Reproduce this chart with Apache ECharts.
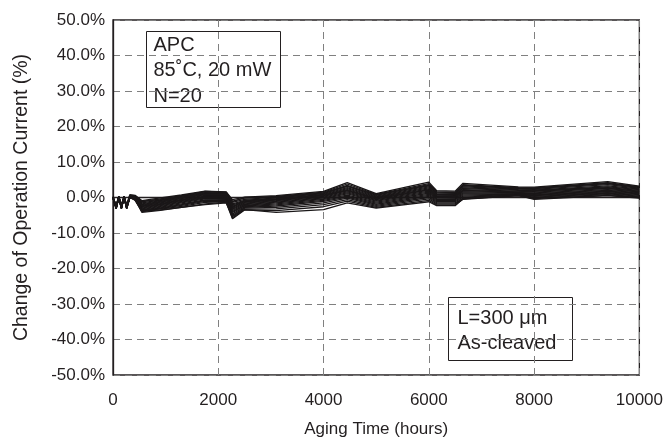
<!DOCTYPE html>
<html>
<head>
<meta charset="utf-8">
<script src="https://cdn.jsdelivr.net/npm/echarts@6/dist/echarts.min.js"></script>
<style>
html,body{margin:0;padding:0;background:#fff;}
#chart{width:666px;height:443px;}
</style>
</head>
<body>
<div id="chart"></div>
<script>
// Aging time (hours)
const hours = [0, 60, 110, 160, 210, 260, 320, 420, 550, 900, 1300, 1750, 2150, 2270, 2500, 3100, 4000, 4450, 5000, 6000, 6150, 6500, 6650, 7700, 8000, 9400, 10000];

// Change of operation current (%) for 20 devices
const dev01 = [0, -2.2, 0.4, -2.0, 0.4, -2.1, 0.8, 0.6, -0.9, -0.1, 0.7, 1.8, 1.6, -0.6, 0.1, 0.5, 1.7, 4.2, 1.1, 4.3, 1.9, 1.8, 4.0, 3.0, 2.9, 4.5, 3.2];
const dev02 = [0.2, -2.4, 0.3, -2.3, 0.3, -2.2, 0.6, 0.5, -1.2, -0.4, 0.5, 1.6, 1.4, -1.0, -0.2, 0.3, 1.5, 3.8, 0.9, 3.9, 1.6, 1.5, 3.6, 2.8, 2.7, 4.2, 3.0];
const dev03 = [0, -2.6, 0.2, -2.5, 0.2, -2.4, 0.5, 0.3, -1.5, -0.7, 0.3, 1.4, 1.2, -1.4, -0.5, 0.1, 1.3, 3.4, 0.6, 3.6, 1.3, 1.2, 3.3, 2.6, 2.5, 3.9, 2.8];
const dev04 = [-0.1, -2.8, 0.1, -2.6, 0.1, -2.7, 0.4, 0.2, -1.8, -0.9, 0.1, 1.2, 1.1, -1.8, -0.8, -0.1, 1.1, 3.1, 0.4, 3.3, 1.1, 1.0, 3.0, 2.4, 2.3, 3.6, 2.6];
const dev05 = [0.1, -2.9, 0.2, -2.8, 0.0, -2.8, 0.3, 0.1, -2.0, -1.1, -0.1, 1.0, 0.9, -2.1, -1.0, -0.3, 0.9, 2.8, 0.2, 3.0, 0.9, 0.8, 2.7, 2.2, 2.1, 3.3, 2.4];
const dev06 = [0, -3.0, 0.0, -2.9, 0.1, -2.9, 0.2, 0.0, -2.2, -1.3, -0.3, 0.8, 0.7, -2.4, -1.2, -0.5, 0.7, 2.5, 0.0, 2.7, 0.7, 0.6, 2.5, 2.0, 1.9, 3.0, 2.2];
const dev07 = [-0.2, -3.1, 0.1, -3.0, 0.0, -3.0, 0.2, -0.1, -2.4, -1.5, -0.5, 0.6, 0.5, -2.7, -1.4, -0.7, 0.5, 2.2, -0.2, 2.4, 0.5, 0.4, 2.2, 1.8, 1.7, 2.8, 2.0];
const dev08 = [0.1, -3.2, -0.1, -3.1, -0.1, -3.1, 0.1, -0.2, -2.6, -1.7, -0.7, 0.4, 0.3, -3.0, -1.6, -0.9, 0.3, 1.9, -0.4, 2.1, 0.3, 0.2, 1.9, 1.6, 1.5, 2.5, 1.8];
const dev09 = [0, -2.7, 0.0, -2.8, 0.2, -2.6, 0.0, -0.3, -2.8, -1.9, -0.9, 0.2, 0.1, -3.3, -1.8, -1.1, 0.1, 1.6, -0.6, 1.8, 0.1, 0.0, 1.6, 1.4, 1.3, 2.2, 1.6];
const dev10 = [-0.1, -2.5, 0.1, -2.7, -0.1, -2.5, 0.1, -0.4, -3.0, -2.1, -1.1, 0.0, -0.1, -3.6, -2.0, -1.3, -0.1, 1.3, -0.8, 1.5, -0.1, -0.2, 1.3, 1.2, 1.1, 2.0, 1.4];
const dev11 = [0.2, -2.9, 0.3, -2.9, 0.3, -2.9, 0.3, -0.5, -3.2, -2.3, -1.3, -0.2, -0.3, -3.9, -2.2, -1.5, -0.3, 1.0, -1.0, 1.2, -0.3, -0.4, 1.0, 1.0, 0.9, 1.8, 1.2];
const dev12 = [0, -3.0, 0.0, -3.0, 0.0, -3.1, 0.0, -0.5, -3.4, -2.5, -1.5, -0.4, -0.5, -4.2, -2.4, -1.8, -0.5, 0.7, -1.3, 0.9, -0.6, -0.6, 0.7, 0.9, 0.7, 1.6, 1.0];
const dev13 = [-0.1, -3.1, -0.1, -3.2, 0.1, -3.2, -0.1, -0.6, -3.6, -2.7, -1.8, -0.7, -0.7, -4.6, -2.6, -2.1, -0.8, 0.4, -1.6, 0.6, -0.9, -0.9, 0.4, 0.8, 0.5, 1.4, 0.8];
const dev14 = [0.1, -3.2, 0.2, -3.1, 0.2, -3.0, 0.1, -0.7, -3.8, -2.9, -2.0, -0.9, -0.8, -5.0, -2.8, -2.4, -1.1, 0.1, -1.9, 0.3, -1.2, -1.2, 0.1, 0.7, 0.3, 1.2, 0.6];
const dev15 = [0, -2.8, 0.1, -2.6, 0.0, -2.7, 0.2, -0.8, -4.0, -3.1, -2.2, -1.1, -1.0, -5.4, -3.0, -2.8, -1.5, -0.2, -2.2, 0.0, -1.5, -1.5, -0.2, 0.6, 0.1, 1.0, 0.4];
const dev16 = [-0.2, -2.6, 0.0, -2.5, 0.1, -2.6, 0.0, -0.3, -3.5, -3.3, -2.5, -1.4, -1.2, -5.8, -3.3, -3.2, -2.0, -0.6, -2.5, -0.4, -1.8, -1.8, -0.4, 0.5, -0.1, 0.8, 0.2];
const dev17 = [0.1, -3.0, 0.2, -3.0, 0.2, -2.8, 0.3, -0.2, -3.9, -3.5, -2.8, -1.8, -1.4, -6.0, -3.5, -3.7, -2.6, -1.0, -2.8, -0.8, -2.1, -2.1, -0.5, 0.5, -0.3, 0.6, 0.0];
const dev18 = [0, -3.1, 0.1, -3.0, 0.0, -3.0, 0.1, -0.4, -4.2, -3.6, -2.8, -2.0, -1.5, -5.2, -3.4, -4.2, -3.4, -1.5, -3.0, -1.2, -2.3, -2.3, -0.3, 0.6, -0.5, 0.5, -0.2];
const dev19 = [0.2, -2.4, 0.4, -2.2, 0.3, -2.3, 0.5, 0.4, -1.0, -0.6, 0.4, 1.7, 1.5, -1.2, 0.0, 0.2, 1.2, 3.2, 0.8, 3.4, 1.5, 1.4, 3.4, 2.7, 2.6, 4.0, 2.9];
const dev20 = [-0.1, -2.7, 0.0, -2.7, 0.0, -2.7, 0.2, 0.0, -2.3, -1.2, 0.0, 0.9, 0.8, -2.6, -0.9, -0.4, 0.6, 2.0, -0.3, 2.2, 0.4, 0.3, 2.0, 1.5, 2.0, 2.6, 1.7];

const devices = [dev01, dev02, dev03, dev04, dev05, dev06, dev07, dev08, dev09, dev10,
                 dev11, dev12, dev13, dev14, dev15, dev16, dev17, dev18, dev19, dev20];

// Axis ticks
const xTicks = [0, 2000, 4000, 6000, 8000, 10000];
const yTicks = [-50, -40, -30, -20, -10, 0, 10, 20, 30, 40, 50];

// Annotation texts
const box1Lines = ['APC', '85˚C, 20 mW', 'N=20'];
const box2Lines = ['L=300 μm', 'As-cleaved'];

const ink = '#231f20';
const font = 'Liberation Sans, Arial, Helvetica, sans-serif';

const chart = echarts.init(document.getElementById('chart'), null, {renderer: 'canvas'});

const series = devices.map((vals, i) => ({
  name: 'Device ' + (i + 1),
  type: 'line',
  data: hours.map((h, k) => [h, vals[k]]),
  symbol: 'none',
  lineStyle: {color: '#1a1718', width: 1.3},
  animation: false,
  z: 3
}));

chart.setOption({
  animation: false,
  backgroundColor: '#fff',
  grid: {left: 113, right: 25, top: 20, bottom: 66, show: true, borderColor: ink, borderWidth: 1.3, backgroundColor: 'transparent'},
  xAxis: {
    type: 'value',
    min: xTicks[0], max: xTicks[xTicks.length - 1], interval: 2000,
    name: 'Aging Time (hours)', nameLocation: 'middle', nameGap: 46,
    nameTextStyle: {fontFamily: font, fontSize: 17, color: ink},
    axisLine: {show: true, lineStyle: {color: ink, width: 1.3}},
    axisTick: {show: false},
    axisLabel: {fontFamily: font, fontSize: 17, color: ink, margin: 17, formatter: v => String(v)},
    splitLine: {show: true, lineStyle: {color: '#808080', type: [7, 5], width: 1}}
  },
  yAxis: {
    type: 'value',
    min: yTicks[0], max: yTicks[yTicks.length - 1], interval: 10,
    name: 'Change of Operation Current (%)', nameLocation: 'middle', nameGap: 81,
    nameTextStyle: {fontFamily: font, fontSize: 19.5, color: ink},
    axisLine: {show: true, lineStyle: {color: ink, width: 1.3}},
    axisTick: {show: false},
    axisLabel: {fontFamily: font, fontSize: 17, color: ink, margin: 8,
      formatter: v => v.toFixed(1) + '%'},
    splitLine: {show: true, lineStyle: {color: '#808080', type: [7, 5], width: 1}}
  },
  graphic: [
    {type: 'group', left: 146, top: 31, z: 10, children: [
      {type: 'rect', shape: {x: 0, y: 0, width: 134, height: 76}, style: {fill: '#fff', stroke: ink, lineWidth: 1}},
      {type: 'text', x: 7, y: 1, style: {text: box1Lines.join('\n'), font: '20px ' + font, fill: ink, lineHeight: 25.5}}
    ]},
    {type: 'group', left: 448, top: 297, z: 10, children: [
      {type: 'rect', shape: {x: 0, y: 0, width: 124, height: 63}, style: {fill: '#fff', stroke: ink, lineWidth: 1}},
      {type: 'text', x: 9, y: 8, style: {text: box2Lines.join('\n'), font: '20px ' + font, fill: ink, lineHeight: 25.5}}
    ]}
  ],
  series: series
});
</script>
</body>
</html>
